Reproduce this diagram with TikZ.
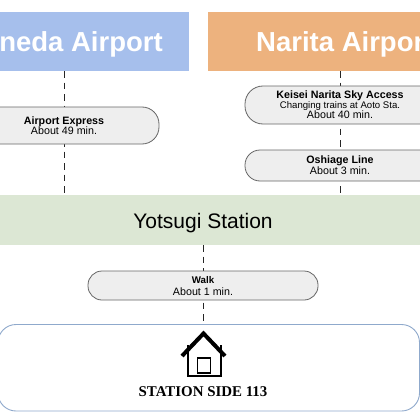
\documentclass[tikz,border=0pt]{standalone}
\usepackage{fontspec}
\setmainfont{Liberation Sans}
\newfontfamily\serifbold[BoldFont=Liberation Serif Bold]{Liberation Serif}
\definecolor{hblue}{HTML}{A6BFEC}
\definecolor{norange}{HTML}{EDB27E}
\definecolor{ygreen}{HTML}{DCE7D4}
\definecolor{pillfill}{HTML}{EEEEEE}
\definecolor{pilledge}{HTML}{666666}
\definecolor{homeedge}{HTML}{8FA9CC}
\tikzset{
  x=1pt,y=-1pt,
  pill/.style={draw=pilledge,fill=pillfill,line width=0.8pt,rounded corners=17pt},
  band/.style={draw=none},
  route/.style={draw=black!85,line width=1pt,dash pattern=on 6.5pt off 5pt},
  title/.style={text=white,font=\bfseries\fontsize{27.5}{30}\selectfont,inner sep=0pt},
  plabel/.style={align=center,inner sep=0pt,text=black,font=\fontsize{10.7}{10}\selectfont},
}
\newcommand{\psm}{\fontsize{9.6}{10}\selectfont}
\begin{document}
\begin{tikzpicture}
\useasboundingbox (0,0) rectangle (420,420);
\clip (0,0) rectangle (420,420);
\fill[white] (0,0) rectangle (420,420);
% bands
\node[band,fill=hblue,minimum width=209pt,minimum height=59pt,inner sep=0pt,anchor=north east] (haneda) at (189,12) {};
\node[band,fill=norange,minimum width=232pt,minimum height=59pt,inner sep=0pt,anchor=north west] (narita) at (208,12) {};
\node[band,fill=ygreen,minimum width=440pt,minimum height=50pt,inner sep=0pt,anchor=north] (yotsugi) at (210,195) {};
\node[title,anchor=base east] (hanedat) at (163,52) {Haneda Airport};
\node[title,anchor=base west] (naritat) at (256,52) {Narita Airport};
\node[inner sep=0pt,font=\fontsize{21}{24}\selectfont,anchor=base] (yotsugit) at (203,228) {Yotsugi Station};
% anchor points
\coordinate (ha) at (64,71);
\coordinate (hb) at (64,195);
\coordinate (na) at (340,71);
\coordinate (nb) at (340,195);
\coordinate (wa) at (203,245);
\coordinate (wb) at (203,324);
\draw[route] (ha) -- (hb);
\draw[route] (na) -- (nb);
\draw[route] (wa) -- (wb);
% pills
\draw[pill] (-30,107) rectangle (159,144);
\node[plabel] (p1) at (64,125.5) {\textbf{Airport Express}\\About 49 min.};
\draw[pill,rounded corners=18pt] (245,86) rectangle (450,124);
\node[plabel] (p2) at (340,104.5) {\textbf{Keisei Narita Sky Access}\\{\psm Changing trains at Aoto Sta.}\\About 40 min.};
\draw[pill,rounded corners=15pt] (245,150) rectangle (450,181);
\node[plabel] (p3) at (340,165.5) {\textbf{Oshiage Line}\\About 3 min.};
\draw[pill,rounded corners=14pt] (88,271) rectangle (318,300);
\node[plabel] (p4) at (203,286) {{\bfseries\fontsize{9.7}{10}\selectfont Walk}\\[1.5pt]About 1 min.};
% home box
\draw[homeedge,line width=0.9pt,rounded corners=18pt,fill=white] (-2,324.5) rectangle (419.5,411);
% house
\draw[black,line width=2.8pt] (188,345) -- (188,376) -- (221,376) -- (221,345);
\draw[black,line width=1.5pt] (197.5,358) rectangle (210.5,373);
\draw[black,line width=4pt,line join=miter] (182,356) -- (203.5,333.5) -- (225,356);
\node[inner sep=0pt,font=\serifbold\bfseries\fontsize{14.9}{16}\selectfont,anchor=base] (home) at (203,396) {STATION SIDE 113};
\end{tikzpicture}
\end{document}
